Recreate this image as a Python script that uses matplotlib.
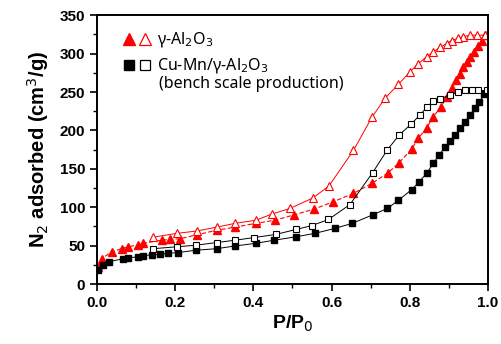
import numpy as np
import matplotlib.pyplot as plt
from matplotlib.ticker import MultipleLocator

plt.rcParams['font.family'] = ['Liberation Sans', 'DejaVu Sans']

# gamma-Al2O3, adsorption branch
al_ads_p = [0.003, 0.012, 0.038, 0.063, 0.080, 0.106, 0.118, 0.165, 0.187, 0.212,
            0.255, 0.306, 0.353, 0.406, 0.455, 0.504, 0.555, 0.604, 0.656, 0.703,
            0.745, 0.773, 0.805, 0.822, 0.843, 0.860, 0.881, 0.894, 0.907, 0.918,
            0.928, 0.937, 0.946, 0.954, 0.964, 0.975, 0.984, 0.992]
al_ads_v = [22, 33, 42, 46, 48.5, 51, 53, 57, 58, 59,
            64, 70, 74, 79, 83, 90, 97.5, 107, 118, 131,
            145, 158, 176, 190, 203, 218, 231, 244, 255, 265,
            274, 283, 289, 296, 302, 310, 317, 324]
# gamma-Al2O3, desorption branch
al_des_p = [0.992, 0.971, 0.954, 0.937, 0.924, 0.907, 0.894, 0.877, 0.860, 0.843,
            0.822, 0.800, 0.771, 0.737, 0.703, 0.656, 0.593, 0.552, 0.494, 0.447,
            0.406, 0.353, 0.306, 0.255, 0.205, 0.144]
al_des_v = [324, 324, 324, 322, 320, 317, 313, 308, 302, 296,
            287, 276, 260, 242, 217, 174, 127.5, 112, 98.5, 91,
            83, 79, 74, 69, 66, 61]

# Cu-Mn/gamma-Al2O3, adsorption branch
cm_ads_p = [0.003, 0.016, 0.031, 0.067, 0.080, 0.106, 0.118, 0.140, 0.161, 0.182,
            0.208, 0.253, 0.306, 0.353, 0.406, 0.453, 0.509, 0.558, 0.609, 0.653,
            0.705, 0.743, 0.771, 0.805, 0.824, 0.843, 0.860, 0.875, 0.890, 0.903,
            0.916, 0.928, 0.941, 0.954, 0.967, 0.978, 0.990]
cm_ads_v = [18, 25, 29, 33, 34, 35.5, 37, 38, 38.6, 40,
            41, 44, 46, 49.5, 53, 57, 61.5, 66, 72.5, 79,
            90, 98.5, 109, 123, 133, 144, 157, 168, 178, 186.5,
            194, 202.5, 211, 220, 229, 237, 247]
# Cu-Mn/gamma-Al2O3, desorption branch
cm_des_p = [0.997, 0.975, 0.958, 0.941, 0.924, 0.903, 0.877, 0.860, 0.843, 0.826,
            0.803, 0.773, 0.743, 0.705, 0.647, 0.592, 0.549, 0.509, 0.457, 0.402,
            0.353, 0.306, 0.253, 0.205, 0.144]
cm_des_v = [252, 252, 252, 252, 250, 246, 241, 238, 230, 220,
            208, 194, 175, 145, 103.5, 84, 76, 71, 64.5, 60.5,
            57, 54, 50.5, 48.5, 46]

fig = plt.figure(figsize=(5.01, 3.44), dpi=100)
ax = fig.add_axes([0.1936, 0.1744, 0.7804, 0.7814])

red = '#ff0000'
ax.plot(al_ads_p, al_ads_v, color=red, lw=0.8, ls=(0, (4, 2)),
        marker='^', ms=5.5, mfc=red, mec=red)
ax.plot(al_des_p, al_des_v, color=red, lw=0.7,
        marker='^', ms=5.5, mfc='white', mec=red, mew=0.8)
ax.plot(cm_ads_p, cm_ads_v, color='black', lw=0.7,
        marker='s', ms=4, mfc='black', mec='black')
ax.plot(cm_des_p, cm_des_v, color='black', lw=0.7,
        marker='s', ms=4, mfc='white', mec='black', mew=0.8)

# legend drawn by hand so the second entry can carry a note underneath
tr = ax.transAxes
ax.plot([0.082], [0.911], transform=tr, marker='^', ms=8.5, color=red, clip_on=False)
ax.plot([0.123], [0.911], transform=tr, marker='^', ms=8.5, mfc='white', mec=red,
        mew=0.9, color=red, clip_on=False)
ax.plot([0.082], [0.814], transform=tr, marker='s', ms=7, color='black', clip_on=False)
ax.plot([0.123], [0.814], transform=tr, marker='s', ms=7, mfc='white', mec='black',
        mew=0.9, color='black', clip_on=False)
lf = dict(fontsize=11.5, family=['Noto Sans', 'DejaVu Sans'], va='center',
          transform=tr)
ax.text(0.153, 0.911, 'γ-Al$_2$O$_3$', **lf)
ax.text(0.153, 0.814, 'Cu-Mn/γ-Al$_2$O$_3$', **lf)
ax.text(0.158, 0.745, '(bench scale production)', **lf)

ax.set_xlim(0, 1.0)
ax.set_ylim(0, 350)
ax.xaxis.set_major_locator(MultipleLocator(0.2))
ax.xaxis.set_minor_locator(MultipleLocator(0.1))
ax.yaxis.set_major_locator(MultipleLocator(50))
ax.yaxis.set_minor_locator(MultipleLocator(25))
ax.tick_params(which='major', direction='out', length=5, width=1.2,
               labelsize=11)
ax.tick_params(which='minor', direction='out', length=3, width=1.0)
for lab in ax.get_xticklabels() + ax.get_yticklabels():
    lab.set_fontweight('bold')
for s in ax.spines.values():
    s.set_linewidth(1.4)

ax.set_xlabel('P/P$_0$', fontsize=14, fontweight='bold', labelpad=3)
ax.set_ylabel('N$_2$ adsorbed (cm$^3$/g)', fontsize=14.5, fontweight='bold',
              labelpad=6)

fig.savefig('out.png', dpi=100)
